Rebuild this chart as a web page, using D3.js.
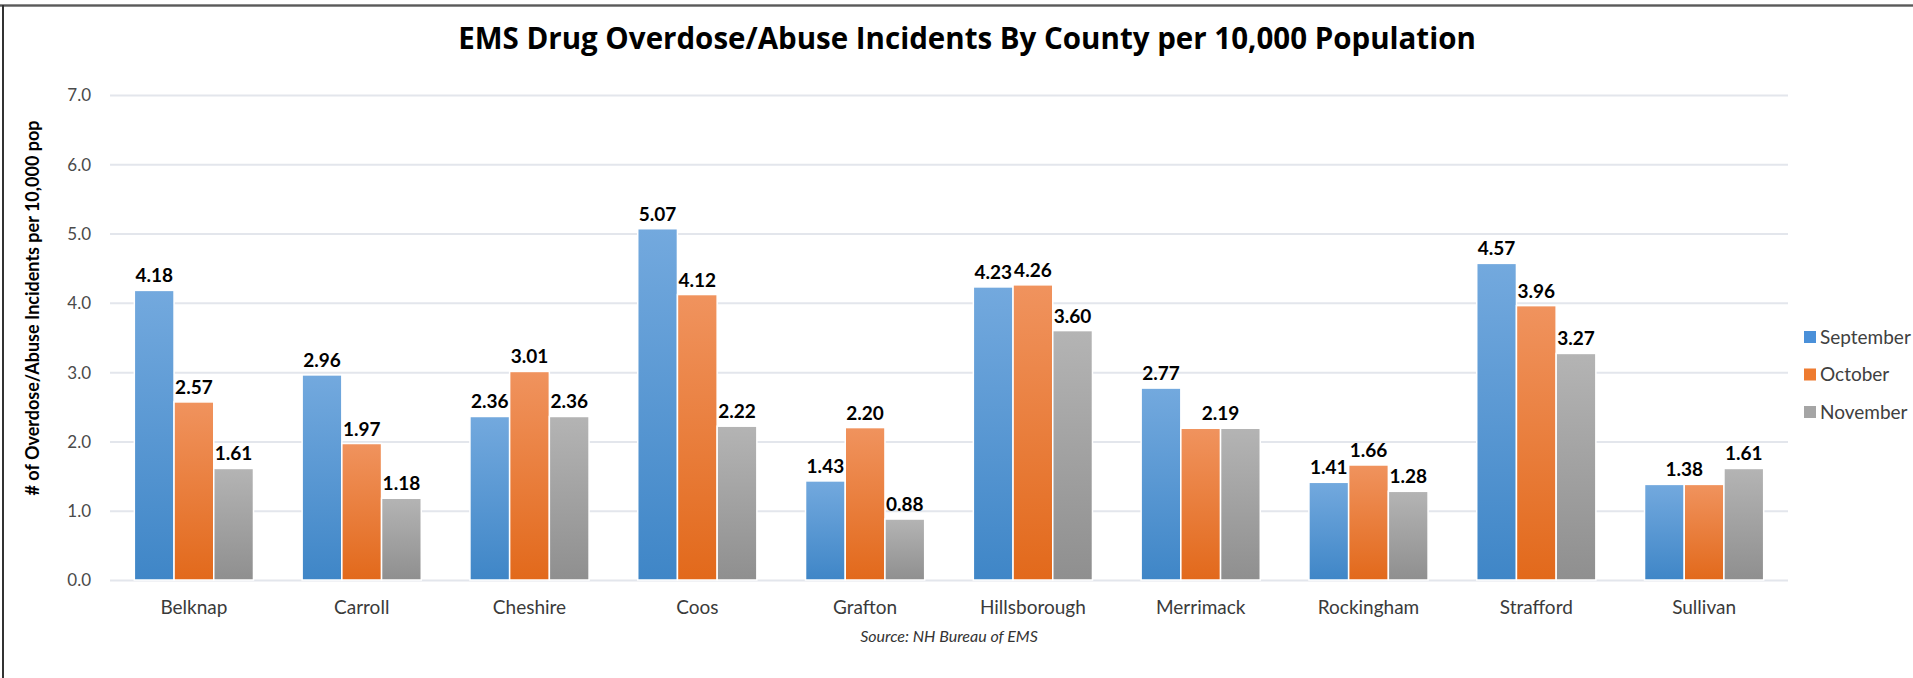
<!DOCTYPE html>
<html>
<head>
<meta charset="utf-8">
<script src="https://cdn.jsdelivr.net/npm/d3@7"></script>
<style>
  html, body { margin: 0; padding: 0; background: #fff; }
  svg { display: block; }
</style>
</head>
<body>
<svg id="chart" width="1913" height="678"></svg>
<script>
const categories = ["Belknap","Carroll","Cheshire","Coos","Grafton","Hillsborough","Merrimack","Rockingham","Strafford","Sullivan"];
const seriesNames = ["September","October","November"];
const september = [4.18,2.96,2.36,5.07,1.43,4.23,2.77,1.41,4.57,1.38];
const october   = [2.57,1.97,3.01,4.12,2.20,4.26,2.19,1.66,3.96,1.38];
const november  = [1.61,1.18,2.36,2.22,0.88,3.60,2.19,1.28,3.27,1.61];
const yTicks = [0,1,2,3,4,5,6,7];
const titleText = "EMS Drug Overdose/Abuse Incidents By County per 10,000 Population";
const yTitleText = "# of Overdose/Abuse Incidents per 10,000 pop";
const sourceText = "Source: NH Bureau of EMS";

const seriesValues = [september, october, november];
const colors = [
  {top:"#73a9de", bottom:"#3f86c7", swatch:"#4a90d9"},
  {top:"#f0935e", bottom:"#e2691b", swatch:"#ee7b30"},
  {top:"#b4b4b4", bottom:"#8f8f8f", swatch:"#a5a5a5"}
];

const svg = d3.select("#chart");
const FONT = "Lato, 'Open Sans', sans-serif";

// frame border
svg.append("rect").attr("x",0).attr("y",4).attr("width",1913).attr("height",3).attr("fill","#8a8a8a");
svg.append("rect").attr("x",0).attr("y",5).attr("width",1913).attr("height",1).attr("fill","#5a5a5a");
svg.append("rect").attr("x",2).attr("y",5).attr("width",2).attr("height",673).attr("fill","#333");

const defs = svg.append("defs");
colors.forEach((c,i)=>{
  const g = defs.append("linearGradient").attr("id","grad"+i).attr("x1",0).attr("y1",0).attr("x2",0).attr("y2",1);
  g.append("stop").attr("offset","0%").attr("stop-color",c.top);
  g.append("stop").attr("offset","100%").attr("stop-color",c.bottom);
});

const x0 = d3.scaleBand().domain(categories).range([110,1788]).paddingInner(0.29).paddingOuter(0.145);
const x1 = d3.scaleBand().domain(seriesNames).range([0,x0.bandwidth()]).padding(0);
const y = d3.scaleLinear().domain([0,7]).range([580,95]);

// title
svg.append("text").attr("x",967).attr("y",49).attr("text-anchor","middle")
  .attr("font-family","'Open Sans', Lato, sans-serif").attr("font-weight","bold").attr("font-size",29.5).attr("fill","#000")
  .text(titleText);

// gridlines
svg.append("g").selectAll("line").data(yTicks).join("line")
  .attr("x1",110).attr("x2",1788)
  .attr("y1",d=>y(d)+0.5).attr("y2",d=>y(d)+0.5)
  .attr("stroke","#e3e6ec").attr("stroke-width",2);

// y axis labels
const yAxis = d3.axisLeft(y).tickValues(yTicks).tickFormat(d3.format(".1f")).tickSize(0).tickPadding(0);
const yg = svg.append("g").attr("transform","translate(91,0)").call(yAxis);
yg.select(".domain").remove();
yg.selectAll("text").attr("font-family",FONT).attr("font-size",17).attr("fill","#4a4a4a").attr("dy","0.35em");

// x axis labels
const xAxis = d3.axisBottom(x0).tickSize(0).tickPadding(0);
const xg = svg.append("g").attr("transform","translate(0,600)").call(xAxis);
xg.select(".domain").remove();
xg.selectAll("text").attr("font-family",FONT).attr("font-size",19).attr("fill","#3a3a3a").attr("dy","0.35em").attr("y",7);

// bars
const rows = [];
categories.forEach((c,ci)=>{
  seriesNames.forEach((s,si)=>{
    rows.push({cat:c, ser:s, si:si, ci:ci, v:seriesValues[si][ci]});
  });
});
svg.append("g").selectAll("rect").data(rows).join("rect")
  .attr("x",d=>x0(d.cat)+x1(d.ser))
  .attr("width",x1.bandwidth())
  .attr("y",d=>y(d.v))
  .attr("height",d=>y(0)-y(d.v))
  .attr("fill",d=>"url(#grad"+d.si+")")
  .attr("stroke","#fff").attr("stroke-width",1.5);

// data labels (adjacent equal values share one label, centered between bars)
const labels = [];
categories.forEach((c,ci)=>{
  let si = 0;
  while (si < seriesNames.length) {
    const v = seriesValues[si][ci];
    if (si+1 < seriesNames.length && seriesValues[si+1][ci] === v) {
      labels.push({x: x0(c)+x1(seriesNames[si+1]), v:v});
      si += 2;
    } else {
      labels.push({x: x0(c)+x1(seriesNames[si])+x1.bandwidth()/2, v:v});
      si += 1;
    }
  }
});
svg.append("g").selectAll("text").data(labels).join("text")
  .attr("x",d=>d.x).attr("y",d=>y(d.v)-8)
  .attr("text-anchor","middle").attr("font-family",FONT).attr("font-weight","bold")
  .attr("font-size",19).attr("fill","#000")
  .text(d=>d3.format(".2f")(d.v));

// y title
svg.append("text").attr("transform","translate(39,308) rotate(-90)")
  .attr("text-anchor","middle").attr("font-family",FONT).attr("font-weight","bold")
  .attr("font-size",18).attr("fill","#000").text(yTitleText);

// source
svg.append("text").attr("x",949).attr("y",642).attr("text-anchor","middle")
  .attr("font-family",FONT).attr("font-style","italic").attr("font-size",16).attr("fill","#333")
  .text(sourceText);

// legend
const lg = svg.append("g").selectAll("g").data(seriesNames).join("g")
  .attr("transform",(d,i)=>`translate(1804,${337+i*37.5})`);
lg.append("rect").attr("x",0).attr("y",-6).attr("width",12).attr("height",12).attr("fill",(d,i)=>colors[i].swatch);
lg.append("text").attr("x",16).attr("y",0).attr("dy","0.35em")
  .attr("font-family",FONT).attr("font-size",19).attr("fill","#404040").text(d=>d);
</script>
</body>
</html>
